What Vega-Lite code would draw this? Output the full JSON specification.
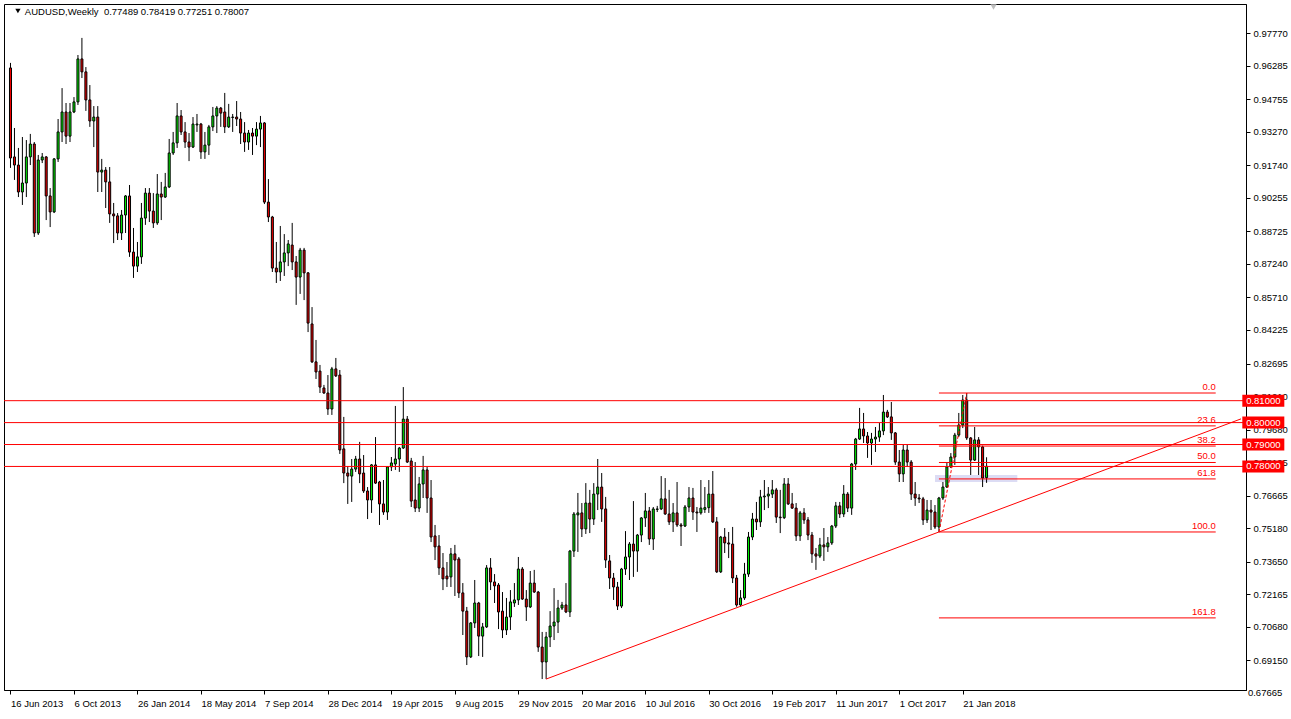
{
"$schema":"https://vega.github.io/schema/vega-lite/v6.json",
"width":1242,"height":686,
"autosize":{"type":"none"},
"padding":{"left":4,"top":4,"right":45,"bottom":29},
"background":"#FFFFFF",
"config":{"view":{"stroke":"#000000","strokeWidth":1},"axis":{"grid":false,"labelOverlap":false,"labelBound":false,"labelFont":"Liberation Sans","labelFontSize":9.5,"labelColor":"#000000","tickColor":"#000000","domainColor":"#000000"}},
"datasets":{
"c":[
{"d":"2013-06-16","o":0.9618,"h":0.9641,"l":0.9162,"c":0.9207},
{"d":"2013-06-23","o":0.9212,"h":0.9344,"l":0.9107,"c":0.9175},
{"d":"2013-06-30","o":0.9175,"h":0.9253,"l":0.9029,"c":0.9052},
{"d":"2013-07-07","o":0.9052,"h":0.9303,"l":0.8993,"c":0.9093},
{"d":"2013-07-14","o":0.9093,"h":0.9289,"l":0.9029,"c":0.9212},
{"d":"2013-07-21","o":0.9212,"h":0.9317,"l":0.9175,"c":0.9271},
{"d":"2013-07-28","o":0.9271,"h":0.9280,"l":0.8847,"c":0.8865},
{"d":"2013-08-04","o":0.8865,"h":0.9221,"l":0.8856,"c":0.9198},
{"d":"2013-08-11","o":0.9198,"h":0.9230,"l":0.9184,"c":0.9212},
{"d":"2013-08-18","o":0.9212,"h":0.9216,"l":0.8924,"c":0.9034},
{"d":"2013-08-25","o":0.9034,"h":0.9070,"l":0.8892,"c":0.8961},
{"d":"2013-09-01","o":0.8961,"h":0.9207,"l":0.8956,"c":0.9203},
{"d":"2013-09-08","o":0.9203,"h":0.9385,"l":0.9189,"c":0.9326},
{"d":"2013-09-15","o":0.9326,"h":0.9526,"l":0.9280,"c":0.9417},
{"d":"2013-09-22","o":0.9417,"h":0.9458,"l":0.9271,"c":0.9307},
{"d":"2013-09-29","o":0.9307,"h":0.9458,"l":0.9280,"c":0.9417},
{"d":"2013-10-06","o":0.9417,"h":0.9485,"l":0.9412,"c":0.9463},
{"d":"2013-10-13","o":0.9463,"h":0.9677,"l":0.9449,"c":0.9659},
{"d":"2013-10-20","o":0.9659,"h":0.9755,"l":0.9572,"c":0.9600},
{"d":"2013-10-27","o":0.9600,"h":0.9622,"l":0.9422,"c":0.9472},
{"d":"2013-11-03","o":0.9472,"h":0.9540,"l":0.9349,"c":0.9376},
{"d":"2013-11-10","o":0.9376,"h":0.9444,"l":0.9257,"c":0.9394},
{"d":"2013-11-17","o":0.9394,"h":0.9444,"l":0.9052,"c":0.9143},
{"d":"2013-11-24","o":0.9143,"h":0.9203,"l":0.9052,"c":0.9152},
{"d":"2013-12-01","o":0.9152,"h":0.9166,"l":0.8979,"c":0.9098},
{"d":"2013-12-08","o":0.9098,"h":0.9166,"l":0.8911,"c":0.8952},
{"d":"2013-12-15","o":0.8952,"h":0.9002,"l":0.8819,"c":0.8943},
{"d":"2013-12-22","o":0.8943,"h":0.8956,"l":0.8833,"c":0.8865},
{"d":"2013-12-29","o":0.8865,"h":0.8970,"l":0.8833,"c":0.8947},
{"d":"2014-01-05","o":0.8947,"h":0.9038,"l":0.8865,"c":0.9034},
{"d":"2014-01-12","o":0.9034,"h":0.9084,"l":0.8756,"c":0.8778},
{"d":"2014-01-19","o":0.8778,"h":0.8888,"l":0.8660,"c":0.8714},
{"d":"2014-01-26","o":0.8714,"h":0.8824,"l":0.8687,"c":0.8756},
{"d":"2014-02-02","o":0.8756,"h":0.9002,"l":0.8724,"c":0.8933},
{"d":"2014-02-09","o":0.8933,"h":0.9070,"l":0.8902,"c":0.9047},
{"d":"2014-02-16","o":0.9047,"h":0.9070,"l":0.8915,"c":0.8965},
{"d":"2014-02-23","o":0.8965,"h":0.9047,"l":0.8888,"c":0.8911},
{"d":"2014-03-02","o":0.8911,"h":0.9134,"l":0.8902,"c":0.9043},
{"d":"2014-03-09","o":0.9043,"h":0.9098,"l":0.8924,"c":0.9029},
{"d":"2014-03-16","o":0.9029,"h":0.9139,"l":0.9025,"c":0.9075},
{"d":"2014-03-23","o":0.9075,"h":0.9294,"l":0.9070,"c":0.9230},
{"d":"2014-03-30","o":0.9230,"h":0.9326,"l":0.9221,"c":0.9276},
{"d":"2014-04-06","o":0.9276,"h":0.9458,"l":0.9253,"c":0.9399},
{"d":"2014-04-13","o":0.9399,"h":0.9426,"l":0.9312,"c":0.9326},
{"d":"2014-04-20","o":0.9326,"h":0.9371,"l":0.9253,"c":0.9280},
{"d":"2014-04-27","o":0.9280,"h":0.9321,"l":0.9193,"c":0.9257},
{"d":"2014-05-04","o":0.9257,"h":0.9394,"l":0.9253,"c":0.9362},
{"d":"2014-05-11","o":0.9358,"h":0.9408,"l":0.9326,"c":0.9362},
{"d":"2014-05-18","o":0.9362,"h":0.9367,"l":0.9203,"c":0.9235},
{"d":"2014-05-25","o":0.9235,"h":0.9326,"l":0.9203,"c":0.9266},
{"d":"2014-06-01","o":0.9266,"h":0.9358,"l":0.9221,"c":0.9349},
{"d":"2014-06-08","o":0.9349,"h":0.9440,"l":0.9330,"c":0.9399},
{"d":"2014-06-15","o":0.9399,"h":0.9444,"l":0.9321,"c":0.9435},
{"d":"2014-06-22","o":0.9435,"h":0.9440,"l":0.9349,"c":0.9412},
{"d":"2014-06-29","o":0.9417,"h":0.9504,"l":0.9321,"c":0.9349},
{"d":"2014-07-06","o":0.9349,"h":0.9454,"l":0.9344,"c":0.9394},
{"d":"2014-07-13","o":0.9392,"h":0.9408,"l":0.9326,"c":0.9394},
{"d":"2014-07-20","o":0.9394,"h":0.9467,"l":0.9353,"c":0.9385},
{"d":"2014-07-27","o":0.9385,"h":0.9417,"l":0.9271,"c":0.9321},
{"d":"2014-08-03","o":0.9321,"h":0.9371,"l":0.9235,"c":0.9280},
{"d":"2014-08-10","o":0.9280,"h":0.9335,"l":0.9244,"c":0.9321},
{"d":"2014-08-17","o":0.9321,"h":0.9344,"l":0.9221,"c":0.9307},
{"d":"2014-08-24","o":0.9307,"h":0.9371,"l":0.9266,"c":0.9339},
{"d":"2014-08-31","o":0.9339,"h":0.9399,"l":0.9257,"c":0.9367},
{"d":"2014-09-07","o":0.9367,"h":0.9371,"l":0.8997,"c":0.9006},
{"d":"2014-09-14","o":0.9006,"h":0.9111,"l":0.8915,"c":0.8938},
{"d":"2014-09-21","o":0.8938,"h":0.8943,"l":0.8687,"c":0.8705},
{"d":"2014-09-28","o":0.8705,"h":0.8824,"l":0.8637,"c":0.8687},
{"d":"2014-10-05","o":0.8687,"h":0.8897,"l":0.8646,"c":0.8733},
{"d":"2014-10-12","o":0.8733,"h":0.8860,"l":0.8669,"c":0.8774},
{"d":"2014-10-19","o":0.8774,"h":0.8833,"l":0.8714,"c":0.8815},
{"d":"2014-10-26","o":0.8810,"h":0.8911,"l":0.8696,"c":0.8733},
{"d":"2014-11-02","o":0.8733,"h":0.8760,"l":0.8537,"c":0.8664},
{"d":"2014-11-09","o":0.8664,"h":0.8797,"l":0.8587,"c":0.8787},
{"d":"2014-11-16","o":0.8787,"h":0.8797,"l":0.8559,"c":0.8683},
{"d":"2014-11-23","o":0.8683,"h":0.8687,"l":0.8413,"c":0.8454},
{"d":"2014-11-30","o":0.8450,"h":0.8527,"l":0.8272,"c":0.8277},
{"d":"2014-12-07","o":0.8277,"h":0.8377,"l":0.8199,"c":0.8231},
{"d":"2014-12-14","o":0.8235,"h":0.8263,"l":0.8135,"c":0.8162},
{"d":"2014-12-21","o":0.8158,"h":0.8172,"l":0.8131,"c":0.8135},
{"d":"2014-12-28","o":0.8135,"h":0.8217,"l":0.8035,"c":0.8062},
{"d":"2015-01-04","o":0.8062,"h":0.8254,"l":0.8035,"c":0.8245},
{"d":"2015-01-11","o":0.8245,"h":0.8295,"l":0.8208,"c":0.8213},
{"d":"2015-01-18","o":0.8217,"h":0.8240,"l":0.7857,"c":0.7875},
{"d":"2015-01-25","o":0.7880,"h":0.8026,"l":0.7724,"c":0.7770},
{"d":"2015-02-01","o":0.7770,"h":0.7802,"l":0.7629,"c":0.7756},
{"d":"2015-02-08","o":0.7756,"h":0.7834,"l":0.7638,"c":0.7788},
{"d":"2015-02-15","o":0.7788,"h":0.7848,"l":0.7775,"c":0.7834},
{"d":"2015-02-22","o":0.7834,"h":0.7912,"l":0.7724,"c":0.7766},
{"d":"2015-03-01","o":0.7770,"h":0.7852,"l":0.7679,"c":0.7688},
{"d":"2015-03-08","o":0.7688,"h":0.7706,"l":0.7560,"c":0.7647},
{"d":"2015-03-15","o":0.7647,"h":0.7811,"l":0.7588,"c":0.7807},
{"d":"2015-03-22","o":0.7807,"h":0.7934,"l":0.7720,"c":0.7724},
{"d":"2015-03-29","o":0.7729,"h":0.7734,"l":0.7533,"c":0.7629},
{"d":"2015-04-05","o":0.7629,"h":0.7738,"l":0.7579,"c":0.7592},
{"d":"2015-04-12","o":0.7592,"h":0.7802,"l":0.7556,"c":0.7798},
{"d":"2015-04-19","o":0.7798,"h":0.7843,"l":0.7779,"c":0.7816},
{"d":"2015-04-26","o":0.7811,"h":0.8076,"l":0.7784,"c":0.7834},
{"d":"2015-05-03","o":0.7834,"h":0.7889,"l":0.7775,"c":0.7884},
{"d":"2015-05-10","o":0.7884,"h":0.8162,"l":0.7880,"c":0.8016},
{"d":"2015-05-17","o":0.8016,"h":0.8030,"l":0.7816,"c":0.7820},
{"d":"2015-05-24","o":0.7825,"h":0.7839,"l":0.7615,"c":0.7642},
{"d":"2015-05-31","o":0.7647,"h":0.7820,"l":0.7592,"c":0.7610},
{"d":"2015-06-07","o":0.7610,"h":0.7752,"l":0.7592,"c":0.7720},
{"d":"2015-06-14","o":0.7720,"h":0.7848,"l":0.7656,"c":0.7784},
{"d":"2015-06-21","o":0.7784,"h":0.7798,"l":0.7588,"c":0.7656},
{"d":"2015-06-28","o":0.7656,"h":0.7738,"l":0.7455,"c":0.7478},
{"d":"2015-07-05","o":0.7483,"h":0.7533,"l":0.7373,"c":0.7433},
{"d":"2015-07-12","o":0.7437,"h":0.7487,"l":0.7305,"c":0.7337},
{"d":"2015-07-19","o":0.7337,"h":0.7405,"l":0.7236,"c":0.7287},
{"d":"2015-07-26","o":0.7300,"h":0.7364,"l":0.7250,"c":0.7287},
{"d":"2015-08-02","o":0.7296,"h":0.7428,"l":0.7250,"c":0.7401},
{"d":"2015-08-09","o":0.7401,"h":0.7442,"l":0.7209,"c":0.7373},
{"d":"2015-08-16","o":0.7378,"h":0.7387,"l":0.7200,"c":0.7223},
{"d":"2015-08-23","o":0.7223,"h":0.7268,"l":0.7031,"c":0.7140},
{"d":"2015-08-30","o":0.7140,"h":0.7159,"l":0.6894,"c":0.6931},
{"d":"2015-09-06","o":0.6931,"h":0.7090,"l":0.6926,"c":0.7086},
{"d":"2015-09-13","o":0.7086,"h":0.7282,"l":0.7063,"c":0.7177},
{"d":"2015-09-20","o":0.7177,"h":0.7182,"l":0.6935,"c":0.7026},
{"d":"2015-09-27","o":0.7026,"h":0.7086,"l":0.6931,"c":0.7068},
{"d":"2015-10-04","o":0.7068,"h":0.7350,"l":0.7063,"c":0.7337},
{"d":"2015-10-11","o":0.7337,"h":0.7382,"l":0.7236,"c":0.7273},
{"d":"2015-10-18","o":0.7273,"h":0.7309,"l":0.7177,"c":0.7255},
{"d":"2015-10-25","o":0.7259,"h":0.7268,"l":0.7058,"c":0.7136},
{"d":"2015-11-01","o":0.7140,"h":0.7227,"l":0.7017,"c":0.7054},
{"d":"2015-11-08","o":0.7054,"h":0.7200,"l":0.7031,"c":0.7113},
{"d":"2015-11-15","o":0.7113,"h":0.7236,"l":0.7054,"c":0.7182},
{"d":"2015-11-22","o":0.7177,"h":0.7268,"l":0.7159,"c":0.7191},
{"d":"2015-11-29","o":0.7191,"h":0.7387,"l":0.7168,"c":0.7332},
{"d":"2015-12-06","o":0.7332,"h":0.7341,"l":0.7191,"c":0.7195},
{"d":"2015-12-13","o":0.7195,"h":0.7236,"l":0.7095,"c":0.7159},
{"d":"2015-12-20","o":0.7159,"h":0.7323,"l":0.7154,"c":0.7268},
{"d":"2015-12-27","o":0.7268,"h":0.7328,"l":0.7223,"c":0.7227},
{"d":"2016-01-03","o":0.7227,"h":0.7232,"l":0.6954,"c":0.6976},
{"d":"2016-01-10","o":0.6976,"h":0.7045,"l":0.6830,"c":0.6908},
{"d":"2016-01-17","o":0.6908,"h":0.7045,"l":0.6830,"c":0.7022},
{"d":"2016-01-24","o":0.7022,"h":0.7140,"l":0.6976,"c":0.7072},
{"d":"2016-01-31","o":0.7072,"h":0.7245,"l":0.7008,"c":0.7090},
{"d":"2016-02-07","o":0.7090,"h":0.7191,"l":0.7040,"c":0.7154},
{"d":"2016-02-14","o":0.7154,"h":0.7182,"l":0.7145,"c":0.7168},
{"d":"2016-02-21","o":0.7168,"h":0.7268,"l":0.7131,"c":0.7136},
{"d":"2016-02-28","o":0.7136,"h":0.7419,"l":0.7113,"c":0.7414},
{"d":"2016-03-06","o":0.7414,"h":0.7592,"l":0.7387,"c":0.7583},
{"d":"2016-03-13","o":0.7579,"h":0.7679,"l":0.7410,"c":0.7588},
{"d":"2016-03-20","o":0.7588,"h":0.7633,"l":0.7478,"c":0.7515},
{"d":"2016-03-27","o":0.7515,"h":0.7724,"l":0.7492,"c":0.7633},
{"d":"2016-04-03","o":0.7633,"h":0.7693,"l":0.7496,"c":0.7560},
{"d":"2016-04-10","o":0.7560,"h":0.7724,"l":0.7533,"c":0.7674},
{"d":"2016-04-17","o":0.7674,"h":0.7834,"l":0.7601,"c":0.7706},
{"d":"2016-04-24","o":0.7706,"h":0.7770,"l":0.7547,"c":0.7606},
{"d":"2016-05-01","o":0.7606,"h":0.7661,"l":0.7337,"c":0.7373},
{"d":"2016-05-08","o":0.7369,"h":0.7396,"l":0.7241,"c":0.7291},
{"d":"2016-05-15","o":0.7291,"h":0.7314,"l":0.7191,"c":0.7250},
{"d":"2016-05-22","o":0.7250,"h":0.7273,"l":0.7145,"c":0.7163},
{"d":"2016-05-29","o":0.7163,"h":0.7337,"l":0.7154,"c":0.7332},
{"d":"2016-06-05","o":0.7332,"h":0.7505,"l":0.7305,"c":0.7387},
{"d":"2016-06-12","o":0.7387,"h":0.7455,"l":0.7282,"c":0.7446},
{"d":"2016-06-19","o":0.7446,"h":0.7642,"l":0.7296,"c":0.7414},
{"d":"2016-06-26","o":0.7414,"h":0.7492,"l":0.7319,"c":0.7487},
{"d":"2016-07-03","o":0.7487,"h":0.7569,"l":0.7455,"c":0.7565},
{"d":"2016-07-10","o":0.7565,"h":0.7679,"l":0.7524,"c":0.7597},
{"d":"2016-07-17","o":0.7597,"h":0.7615,"l":0.7442,"c":0.7469},
{"d":"2016-07-24","o":0.7469,"h":0.7615,"l":0.7419,"c":0.7606},
{"d":"2016-07-31","o":0.7604,"h":0.7620,"l":0.7592,"c":0.7606},
{"d":"2016-08-07","o":0.7606,"h":0.7756,"l":0.7601,"c":0.7652},
{"d":"2016-08-14","o":0.7652,"h":0.7747,"l":0.7579,"c":0.7583},
{"d":"2016-08-21","o":0.7583,"h":0.7693,"l":0.7533,"c":0.7547},
{"d":"2016-08-28","o":0.7547,"h":0.7633,"l":0.7501,"c":0.7588},
{"d":"2016-09-04","o":0.7588,"h":0.7729,"l":0.7524,"c":0.7533},
{"d":"2016-09-11","o":0.7533,"h":0.7542,"l":0.7437,"c":0.7528},
{"d":"2016-09-18","o":0.7528,"h":0.7624,"l":0.7524,"c":0.7615},
{"d":"2016-09-25","o":0.7615,"h":0.7706,"l":0.7592,"c":0.7656},
{"d":"2016-10-02","o":0.7656,"h":0.7702,"l":0.7556,"c":0.7592},
{"d":"2016-10-09","o":0.7592,"h":0.7615,"l":0.7501,"c":0.7588},
{"d":"2016-10-16","o":0.7588,"h":0.7738,"l":0.7580,"c":0.7610},
{"d":"2016-10-23","o":0.7604,"h":0.7706,"l":0.7588,"c":0.7612},
{"d":"2016-10-30","o":0.7612,"h":0.7738,"l":0.7588,"c":0.7674},
{"d":"2016-11-06","o":0.7674,"h":0.7779,"l":0.7542,"c":0.7547},
{"d":"2016-11-13","o":0.7547,"h":0.7569,"l":0.7314,"c":0.7319},
{"d":"2016-11-20","o":0.7319,"h":0.7483,"l":0.7314,"c":0.7478},
{"d":"2016-11-27","o":0.7478,"h":0.7519,"l":0.7405,"c":0.7451},
{"d":"2016-12-04","o":0.7451,"h":0.7501,"l":0.7382,"c":0.7446},
{"d":"2016-12-11","o":0.7446,"h":0.7524,"l":0.7268,"c":0.7291},
{"d":"2016-12-18","o":0.7291,"h":0.7305,"l":0.7160,"c":0.7168},
{"d":"2016-12-25","o":0.7168,"h":0.7236,"l":0.7160,"c":0.7200},
{"d":"2017-01-01","o":0.7200,"h":0.7360,"l":0.7191,"c":0.7309},
{"d":"2017-01-08","o":0.7309,"h":0.7501,"l":0.7296,"c":0.7478},
{"d":"2017-01-15","o":0.7478,"h":0.7588,"l":0.7464,"c":0.7560},
{"d":"2017-01-22","o":0.7560,"h":0.7638,"l":0.7510,"c":0.7547},
{"d":"2017-01-29","o":0.7547,"h":0.7693,"l":0.7524,"c":0.7661},
{"d":"2017-02-05","o":0.7661,"h":0.7738,"l":0.7601,"c":0.7665},
{"d":"2017-02-12","o":0.7665,"h":0.7706,"l":0.7610,"c":0.7674},
{"d":"2017-02-19","o":0.7674,"h":0.7738,"l":0.7656,"c":0.7693},
{"d":"2017-02-26","o":0.7693,"h":0.7702,"l":0.7542,"c":0.7569},
{"d":"2017-03-05","o":0.7569,"h":0.7693,"l":0.7496,"c":0.7566},
{"d":"2017-03-12","o":0.7566,"h":0.7747,"l":0.7560,"c":0.7720},
{"d":"2017-03-19","o":0.7720,"h":0.7747,"l":0.7624,"c":0.7629},
{"d":"2017-03-26","o":0.7629,"h":0.7679,"l":0.7606,"c":0.7610},
{"d":"2017-04-02","o":0.7610,"h":0.7633,"l":0.7460,"c":0.7483},
{"d":"2017-04-09","o":0.7483,"h":0.7597,"l":0.7460,"c":0.7588},
{"d":"2017-04-16","o":0.7588,"h":0.7610,"l":0.7538,"c":0.7556},
{"d":"2017-04-23","o":0.7556,"h":0.7569,"l":0.7464,"c":0.7487},
{"d":"2017-04-30","o":0.7487,"h":0.7501,"l":0.7360,"c":0.7401},
{"d":"2017-05-07","o":0.7401,"h":0.7428,"l":0.7328,"c":0.7391},
{"d":"2017-05-14","o":0.7391,"h":0.7474,"l":0.7382,"c":0.7442},
{"d":"2017-05-21","o":0.7442,"h":0.7519,"l":0.7369,"c":0.7433},
{"d":"2017-05-28","o":0.7433,"h":0.7478,"l":0.7410,"c":0.7451},
{"d":"2017-06-04","o":0.7451,"h":0.7533,"l":0.7442,"c":0.7528},
{"d":"2017-06-11","o":0.7528,"h":0.7638,"l":0.7519,"c":0.7620},
{"d":"2017-06-18","o":0.7620,"h":0.7638,"l":0.7565,"c":0.7583},
{"d":"2017-06-25","o":0.7583,"h":0.7715,"l":0.7569,"c":0.7674},
{"d":"2017-07-02","o":0.7674,"h":0.7683,"l":0.7592,"c":0.7610},
{"d":"2017-07-09","o":0.7610,"h":0.7816,"l":0.7579,"c":0.7811},
{"d":"2017-07-16","o":0.7811,"h":0.7930,"l":0.7784,"c":0.7925},
{"d":"2017-07-23","o":0.7925,"h":0.8067,"l":0.7921,"c":0.7971},
{"d":"2017-07-30","o":0.7971,"h":0.8044,"l":0.7907,"c":0.7939},
{"d":"2017-08-06","o":0.7939,"h":0.7957,"l":0.7839,"c":0.7907},
{"d":"2017-08-13","o":0.7907,"h":0.7953,"l":0.7807,"c":0.7925},
{"d":"2017-08-20","o":0.7925,"h":0.7980,"l":0.7866,"c":0.7934},
{"d":"2017-08-27","o":0.7934,"h":0.7998,"l":0.7912,"c":0.7962},
{"d":"2017-09-03","o":0.7962,"h":0.8126,"l":0.7943,"c":0.8048},
{"d":"2017-09-10","o":0.8048,"h":0.8058,"l":0.8021,"c":0.8026},
{"d":"2017-09-17","o":0.8026,"h":0.8094,"l":0.7921,"c":0.7953},
{"d":"2017-09-24","o":0.7953,"h":0.7957,"l":0.7807,"c":0.7820},
{"d":"2017-10-01","o":0.7820,"h":0.7875,"l":0.7729,"c":0.7766},
{"d":"2017-10-08","o":0.7766,"h":0.7898,"l":0.7729,"c":0.7875},
{"d":"2017-10-15","o":0.7875,"h":0.7898,"l":0.7798,"c":0.7820},
{"d":"2017-10-22","o":0.7820,"h":0.7829,"l":0.7647,"c":0.7674},
{"d":"2017-10-29","o":0.7674,"h":0.7729,"l":0.7620,"c":0.7656},
{"d":"2017-11-05","o":0.7656,"h":0.7674,"l":0.7633,"c":0.7652},
{"d":"2017-11-12","o":0.7652,"h":0.7661,"l":0.7533,"c":0.7556},
{"d":"2017-11-19","o":0.7556,"h":0.7647,"l":0.7542,"c":0.7601},
{"d":"2017-11-26","o":0.7601,"h":0.7647,"l":0.7510,"c":0.7592},
{"d":"2017-12-03","o":0.7592,"h":0.7624,"l":0.7515,"c":0.7524},
{"d":"2017-12-10","o":0.7524,"h":0.7661,"l":0.7501,"c":0.7656},
{"d":"2017-12-17","o":0.7656,"h":0.7729,"l":0.7647,"c":0.7706},
{"d":"2017-12-24","o":0.7706,"h":0.7820,"l":0.7702,"c":0.7798},
{"d":"2017-12-31","o":0.7798,"h":0.7861,"l":0.7793,"c":0.7843},
{"d":"2018-01-07","o":0.7843,"h":0.7953,"l":0.7807,"c":0.7943},
{"d":"2018-01-14","o":0.7943,"h":0.8044,"l":0.7934,"c":0.7989},
{"d":"2018-01-21","o":0.7989,"h":0.8126,"l":0.7975,"c":0.8103},
{"d":"2018-01-28","o":0.8103,"h":0.8135,"l":0.7921,"c":0.7930},
{"d":"2018-02-04","o":0.7930,"h":0.7934,"l":0.7761,"c":0.7829},
{"d":"2018-02-11","o":0.7829,"h":0.7980,"l":0.7825,"c":0.7921},
{"d":"2018-02-18","o":0.7921,"h":0.7934,"l":0.7761,"c":0.7889},
{"d":"2018-02-25","o":0.7889,"h":0.7895,"l":0.7706,"c":0.7747},
{"d":"2018-03-04","o":0.77489,"h":0.78419,"l":0.77251,"c":0.78007}
],
"levels":[{"p":0.81,"t":"0.81000"},{"p":0.80,"t":"0.80000"},{"p":0.79,"t":"0.79000"},{"p":0.78,"t":"0.78000"}],
"fib":[{"p":0.8135,"t":"0.0"},{"p":0.7985,"t":"23.6"},{"p":0.7893,"t":"38.2"},{"p":0.7818,"t":"50.0"},{"p":0.7743,"t":"61.8"},{"p":0.7501,"t":"100.0"},{"p":0.7109,"t":"161.8"}],
"trend":[{"d":"2016-01-17T00:00:00Z","p":0.6830},{"d":"2019-05-26T21:00:00Z","p":0.8017}],
"fibline":[{"d":"2017-12-10T00:00:00Z","p":0.7501},{"d":"2018-01-28T00:00:00Z","p":0.8135}],
"zone":[{"a":"2017-12-03T00:00:00Z","b":"2018-04-27T06:00:00Z","top":0.7761,"bot":0.7729}]
},
"layer":[
{"data":{"name":"zone"},"mark":{"type":"rect","color":"#DCDCF4"},
 "encoding":{"x":{"field":"a","type":"temporal","title":null,"scale":{"type":"utc","domain":[{"year":2013,"month":6,"date":13,"hours":9,"utc":true},{"year":2019,"month":5,"date":26,"hours":21,"utc":true}]},
   "axis":{"values":[{"year":2013,"month":6,"date":16,"utc":true},{"year":2013,"month":10,"date":6,"utc":true},{"year":2014,"month":1,"date":26,"utc":true},{"year":2014,"month":5,"date":18,"utc":true},{"year":2014,"month":9,"date":7,"utc":true},{"year":2014,"month":12,"date":28,"utc":true},{"year":2015,"month":4,"date":19,"utc":true},{"year":2015,"month":8,"date":9,"utc":true},{"year":2015,"month":11,"date":29,"utc":true},{"year":2016,"month":3,"date":20,"utc":true},{"year":2016,"month":7,"date":10,"utc":true},{"year":2016,"month":10,"date":30,"utc":true},{"year":2017,"month":2,"date":19,"utc":true},{"year":2017,"month":6,"date":11,"utc":true},{"year":2017,"month":10,"date":1,"utc":true},{"year":2018,"month":1,"date":21,"utc":true}],
   "tickCount":60,"format":"%-d %b %Y","labelAlign":"left","labelBaseline":"top","tickSize":4,"labelPadding":4,"labelOverlap":false,"labelFlush":false,"title":null}},
  "x2":{"field":"b"},
  "y":{"field":"top","type":"quantitative","title":null,"scale":{"domain":[0.67801,0.99097],"zero":false,"nice":false},
   "axis":{"orient":"right","values":[0.6915,0.7068,0.72165,0.7365,0.7518,0.76665,0.78195,0.7968,0.8121,0.82695,0.84225,0.8571,0.8724,0.88725,0.90255,0.9174,0.9327,0.94755,0.96285,0.9777],"tickCount":60,"format":".5f","tickSize":4,"labelPadding":3,"labelOverlap":false,"labelFlush":false,"labelBound":false,"title":null}},
  "y2":{"field":"bot"}}},
{"data":{"name":"c"},"mark":{"type":"rule","color":"#000000","strokeWidth":1},
 "encoding":{"x":{"field":"d","type":"temporal","title":null},
  "y":{"field":"l","type":"quantitative","title":null},
  "y2":{"field":"h"}}},
{"data":{"name":"c"},"mark":{"type":"bar","width":2,"stroke":"#000000","strokeWidth":1},
 "encoding":{"x":{"field":"d","type":"temporal","title":null},"y":{"field":"o","type":"quantitative","title":null},"y2":{"field":"c"},
  "fill":{"condition":{"test":"datum.c >= datum.o","value":"#00F000"},"value":"#F00000"}}},
{"data":{"name":"levels"},"mark":{"type":"rule","color":"#FF0000","strokeWidth":1},
 "encoding":{"y":{"field":"p","type":"quantitative","title":null}}},
{"data":{"name":"trend"},"mark":{"type":"line","color":"#FF0000","strokeWidth":1},
 "encoding":{"x":{"field":"d","type":"temporal","title":null},"y":{"field":"p","type":"quantitative","title":null}}},
{"data":{"name":"fib"},"mark":{"type":"rule","color":"#FF0000","strokeWidth":1},
 "encoding":{"x":{"datum":{"year":2017,"month":12,"date":10,"utc":true},"type":"temporal"},"x2":{"datum":{"year":2019,"month":4,"date":12,"hours":6,"utc":true}},"y":{"field":"p","type":"quantitative","title":null}}},
{"data":{"name":"fib"},"mark":{"type":"text","color":"#FF0000","align":"right","baseline":"bottom","dy":-1,"font":"Liberation Sans","fontSize":9.5},
 "encoding":{"x":{"datum":{"year":2019,"month":4,"date":12,"hours":6,"utc":true},"type":"temporal"},"y":{"field":"p","type":"quantitative","title":null},"text":{"field":"t"}}},
{"data":{"name":"fibline"},"mark":{"type":"line","color":"#FF0000","strokeWidth":1,"strokeDash":[3,2]},
 "encoding":{"x":{"field":"d","type":"temporal","title":null},"y":{"field":"p","type":"quantitative","title":null}}},
{"data":{"name":"levels"},"mark":{"type":"tick","orient":"horizontal","color":"#FF0000","size":42,"thickness":12,"opacity":1},
 "encoding":{"x":{"datum":{"year":2019,"month":7,"date":5,"hours":6,"utc":true},"type":"temporal"},"y":{"field":"p","type":"quantitative","title":null}}},
{"data":{"name":"levels"},"mark":{"type":"text","color":"#FFFFFF","align":"center","baseline":"middle","font":"Liberation Sans","fontSize":9.5},
 "encoding":{"x":{"datum":{"year":2019,"month":7,"date":5,"hours":6,"utc":true},"type":"temporal"},"y":{"field":"p","type":"quantitative","title":null},"text":{"field":"t"}}},
{"data":{"values":[{"t":"0.67665"}]},"mark":{"type":"text","color":"#000000","align":"left","baseline":"middle","font":"Liberation Sans","fontSize":9.5},
 "encoding":{"x":{"datum":{"year":2019,"month":6,"date":8,"hours":3,"utc":true},"type":"temporal"},"y":{"datum":0.67665,"type":"quantitative"},"text":{"field":"t"}}},
{"data":{"values":[{"t":"AUDUSD,Weekly\u00a0 0.77489 0.78419 0.77251 0.78007"}]},"mark":{"type":"text","color":"#000000","align":"left","baseline":"alphabetic","font":"Liberation Sans","fontSize":9.5},
 "encoding":{"x":{"datum":{"year":2013,"month":7,"date":11,"hours":9,"utc":true},"type":"temporal"},"y":{"datum":0.98595,"type":"quantitative"},"text":{"field":"t"}}},
{"data":{"values":[{}]},"mark":{"type":"point","shape":"triangle-down","filled":true,"color":"#000000","size":28,"opacity":1},
 "encoding":{"x":{"datum":{"year":2013,"month":6,"date":29,"hours":3,"utc":true},"type":"temporal"},"y":{"datum":0.98777,"type":"quantitative"}}},
{"data":{"values":[{}]},"mark":{"type":"point","shape":"triangle-down","filled":true,"color":"#BEBEBE","size":40,"opacity":1},
 "encoding":{"x":{"datum":{"year":2018,"month":3,"date":16,"hours":6,"utc":true},"type":"temporal"},"y":{"datum":0.9896,"type":"quantitative"}}}
]
}
